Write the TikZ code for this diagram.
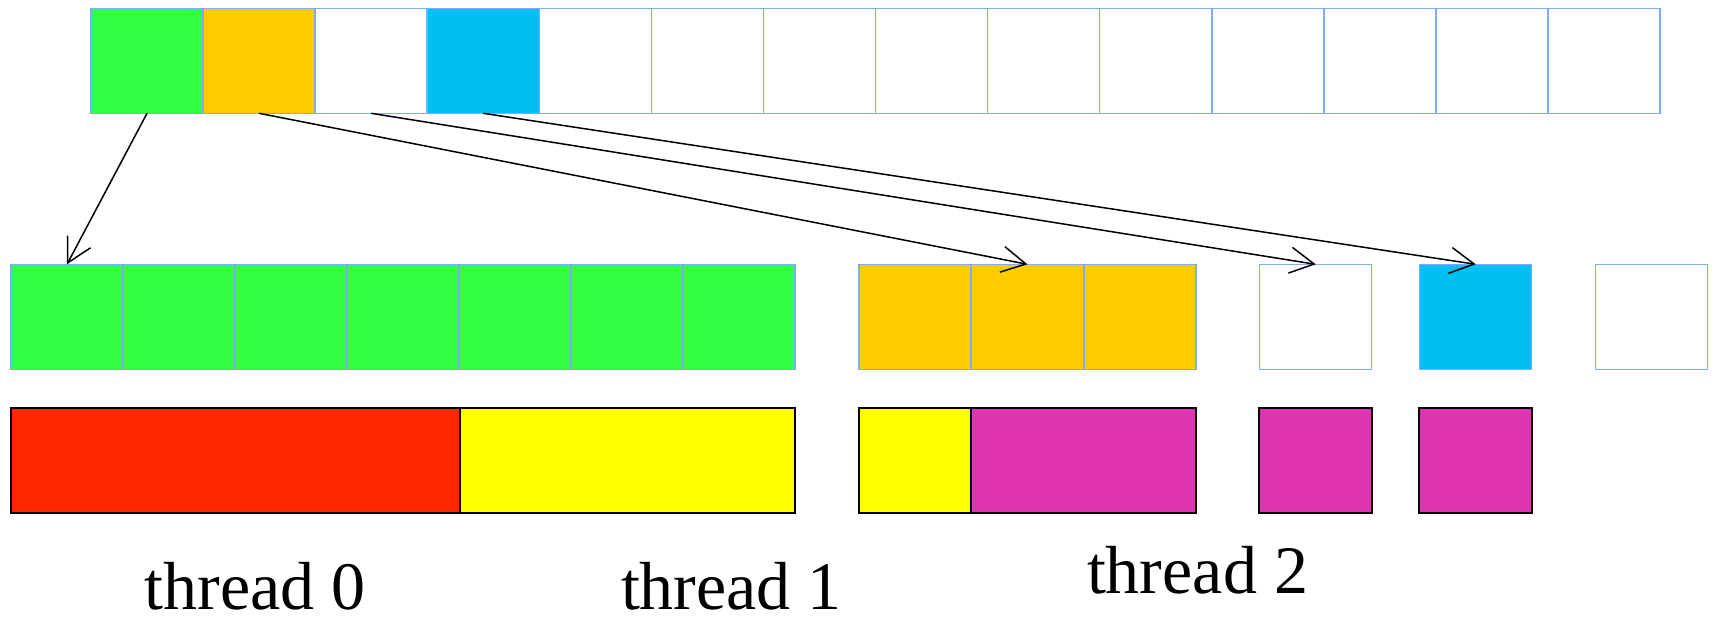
\documentclass[tikz,border=0pt]{standalone}
\usepackage{fontspec}
\setmainfont{Liberation Serif}
\usetikzlibrary{arrows.meta}
\definecolor{cgreen}{RGB}{51,255,68}
\definecolor{corange}{RGB}{255,204,0}
\definecolor{cblue}{RGB}{0,191,243}
\definecolor{cred}{RGB}{255,38,0}
\definecolor{cyellow}{RGB}{255,255,0}
\definecolor{cmagenta}{RGB}{224,51,176}
\definecolor{cellblue}{RGB}{128,170,255}
\begin{document}
\begin{tikzpicture}[x=0.5pt,y=-0.5pt,
  cell/.style={draw=cellblue, line width=0.75pt, minimum width=56pt,
    minimum height=52.5pt, inner sep=0pt, outer sep=0pt, fill=white},
  blk/.style={draw=black, line width=1pt, minimum height=52.5pt,
    inner sep=0pt, outer sep=0pt},
  link/.style={line width=0.75pt, -{Straight Barb[length=12pt,width=13pt]}},
  tlabel/.style={font=\fontsize{34}{40}\selectfont, anchor=base, inner sep=0pt}]
\useasboundingbox (0,0) rectangle (1716,616);

% source array
\foreach \i/\c in {1/cgreen,2/corange,3/white,4/cblue,5/white,6/white,7/white,
                   8/white,9/white,10/white,11/white,12/white,13/white,14/white}
  \node[cell, fill=\c] (t\i) at ({91+112.07*(\i-0.5)},60.8) {};

% copied cells
\foreach \i in {1,...,7}
  \node[cell, fill=cgreen] (g\i) at ({11+112*(\i-0.5)},316.8) {};
\foreach \i in {1,2,3}
  \node[cell, fill=corange] (o\i) at ({859+112.3*(\i-0.5)},316.8) {};
\node[cell] (w1) at (1315.7,316.8) {};
\node[cell, fill=cblue] (b1) at (1475.7,316.8) {};
\node[cell] (w2) at (1651.5,316.8) {};

% thread assignment
\node[blk, fill=cred, minimum width=224.5pt] (r0) at (235.5,460.8) {};
\node[blk, fill=cyellow, minimum width=167.5pt] (y0) at (627.5,460.8) {};
\node[blk, fill=cyellow, minimum width=56pt] (y1) at (915,460.8) {};
\node[blk, fill=cmagenta, minimum width=112.5pt] (m0) at (1083.5,460.8) {};
\node[blk, fill=cmagenta, minimum width=56.5pt] (m1) at (1315.7,460.8) {};
\node[blk, fill=cmagenta, minimum width=56.5pt] (m2) at (1475.7,460.8) {};

% links
\draw[link] (t1.south) -- (g1.north);
\draw[link] (t2.south) -- (o2.north);
\draw[link] (t3.south) -- (w1.north);
\draw[link] (t4.south) -- (b1.north);

% labels
\node[tlabel] (l0) at (255,609) {thread 0};
\node[tlabel] (l1) at (731.5,609) {thread 1};
\node[tlabel] (l2) at (1197.5,593) {thread 2};
\end{tikzpicture}
\end{document}
